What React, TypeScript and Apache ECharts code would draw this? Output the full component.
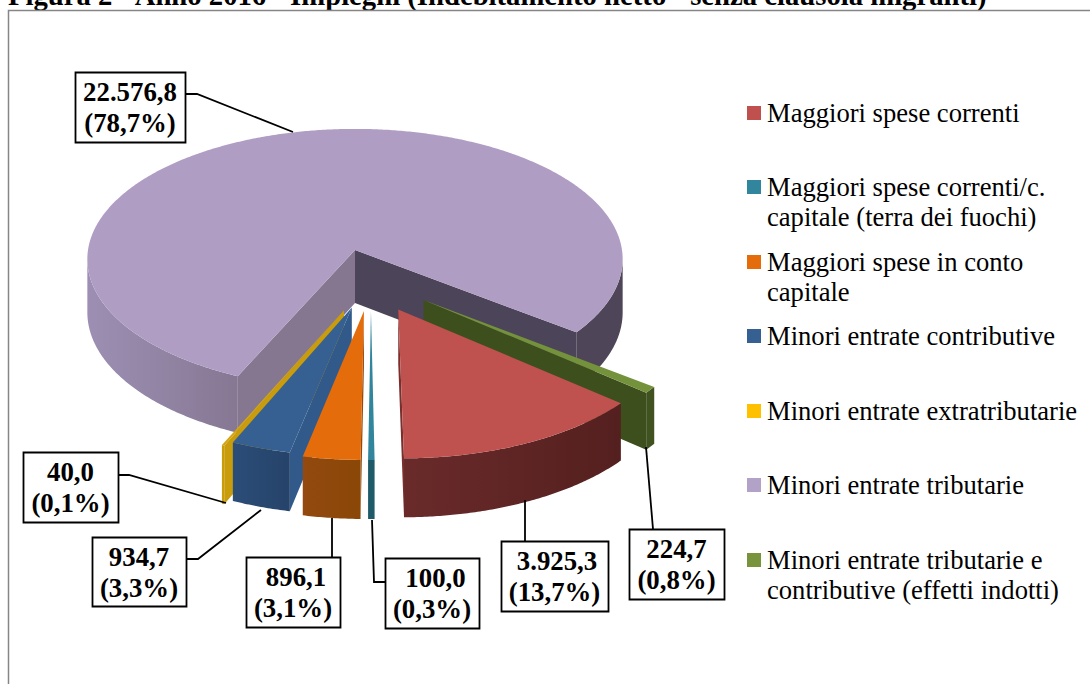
import React, { useEffect, useRef } from "react";
import * as echarts from "echarts";

const titleText = "Figura 2 - Anno 2016 - Impieghi (Indebitamento netto - senza clausola migranti)";
const categories = [
  "Maggiori spese correnti",
  "Maggiori spese correnti/c.\ncapitale (terra dei fuochi)",
  "Maggiori spese in conto\ncapitale",
  "Minori entrate contributive",
  "Minori entrate extratributarie",
  "Minori entrate tributarie",
  "Minori entrate tributarie e\ncontributive (effetti indotti)",
];
const values = [3925.3, 100.0, 896.1, 934.7, 40.0, 22576.8, 224.7];
const valueLabels = ["3.925,3", "100,0", "896,1", "934,7", "40,0", "22.576,8", "224,7"];
const shareLabels = ["(13,7%)", "(0,3%)", "(3,1%)", "(3,3%)", "(0,1%)", "(78,7%)", "(0,8%)"];
const legendColors = ["#c0504d", "#31859c", "#e46c0a", "#376092", "#ffc000", "#b3a2c7", "#77933c"];

// Styling of the 3D pie, in slice order
const topColors = ["#bf514f", "#31859c", "#e46c0a", "#376092", "#d4a50f", "#b09dc4", "#74913b"];
const arcLeft = [["#6a2a2a", "#54201f"], ["#1f5a68", "#1f5a68"], ["#93490f", "#8a4706"], ["#2b4d78", "#26436a"], ["#c99c0c", "#c99c0c"], ["#9d8fb3", "#867893"], ["#3f5220", "#3f5220"]];
const arcRight = ["#54201f", "#1f5a68", "#8a4706", "#26436a", "#c99c0c", "#4e4658", "#3f5220"];
const startWall = ["#7a2f2d", "#1f5a68", "#93490f", "#315a8a", "#c99c0c", "#85778f", "#3d4f1d"];
const endWall = ["#7a2f2d", "#1f5a68", "#93490f", "#26436a", "#c99c0c", "#4c4458", "#3d4f1d"];
const explodeX = [0.157, 0.0579, 0.0325, -0.0115, -0.04, 0, 0.25];
const explodeY = [0.445, 0.455, 0.455, 0.43, 0.45, 0, 0.375];
const drawOrder = [5, 6, 0, 4, 3, 2, 1];
const firstAngle = 130.3;

const CX = 355, CY = 250, A = 267, B = 129.6, K = 0.07, DEPTH = 53;

// Label boxes: [x, y, w, h, first-line nudge]
const boxes = [
  [501, 541, 107, 70, 2.5], [385, 558, 94, 70, 3.5], [246, 557, 94, 70, 3], [92, 537, 94, 69, 0],
  [23, 452, 95, 70, 0], [75, 72, 110, 70, 0], [629, 529, 95, 70, 0],
];
const leaders = [
  [[525, 541], [525, 500]], [[385, 582], [374, 582], [372, 520]], [[332, 557], [332, 518]],
  [[186, 559], [198, 559], [261, 510]], [[118, 475], [129, 475], [226, 503]],
  [[185, 94], [197, 94], [293, 132]], [[653, 529], [646, 447]],
];
const legendY = [106, 180, 255, 329, 404, 478, 553];

const total = values.reduce((a, b) => a + b, 0);
const startAngles: number[] = [];
values.reduce((acc, v, i) => {
  startAngles[i] = acc;
  return acc + (v / total) * 360;
}, firstAngle);

function project(X: number, Y: number) {
  const s = 1 / (1 - K * Y);
  return { x: CX + X * A * s, y: CY + Y * B * s, d: DEPTH * s };
}

function wall(a: any, b: any) {
  // top edge points followed by the same points pushed down by the depth
  const pts = a.map((p: any) => [p.x, p.y]);
  for (let i = a.length - 1; i >= 0; i--) pts.push([a[i].x, a[i].y + a[i].d]);
  return pts;
}

function renderSlice(_: any, api: any) {
  const i = api.value(1) as number;
  const sweep = ((api.value(0) as number) / total) * 360;
  const a0 = startAngles[i];
  const ox = explodeX[i], oy = explodeY[i];
  const n = Math.max(2, Math.ceil(sweep * 2));
  const arc: any[] = [];
  for (let k = 0; k <= n; k++) {
    const t = ((a0 + (sweep * k) / n) * Math.PI) / 180;
    arc.push(project(ox + Math.sin(t), oy - Math.cos(t)));
  }
  const apex = project(ox, oy);
  const children: any[] = [];
  const face = (points: number[][], fill: any) =>
    children.push({ type: "polygon", shape: { points }, style: { fill, stroke: "none" }, silent: true });
  const grad = (c: string[]) =>
    new echarts.graphic.LinearGradient(0, 0, 1, 0, [{ offset: 0, color: c[0] }, { offset: 1, color: c[1] }]);

  if (arc[0].x < apex.x) face(wall([apex, arc[0]], null), startWall[i]);
  if (apex.x < arc[n].x) face(wall([arc[n], apex], null), endWall[i]);

  let run: any[] = [];
  const flush = () => {
    if (run.length > 1) {
      const mid = run[Math.floor(run.length / 2)].x;
      const isRightRun = i === 5 && mid > CX;
      face(wall(run, null), isRightRun ? arcRight[i] : grad(arcLeft[i]));
    }
    run = [];
  };
  for (let k = 0; k < n; k++) {
    if (arc[k + 1].x < arc[k].x) {
      if (!run.length) run.push(arc[k]);
      run.push(arc[k + 1]);
    } else flush();
  }
  flush();

  face([[apex.x, apex.y], ...arc.map((p) => [p.x, p.y])], topColors[i]);
  return { type: "group", children };
}

export default function App() {
  const ref = useRef<HTMLDivElement>(null);
  useEffect(() => {
    document.body.style.margin = "0";
    const chart = echarts.init(ref.current!, undefined, { renderer: "svg" });
    const font = "'Liberation Serif', 'Times New Roman', serif";
    const graphic: any[] = [
      {
        type: "text", x: 8, y: 9.5, z: 5,
        style: { text: titleText, fontFamily: font, fontWeight: "bold", fontSize: 28.7, fill: "#000", verticalAlign: "bottom" },
      },
      {
        type: "polyline", z: 5, shape: { points: [[8.5, 684], [8.5, 10.5], [1090, 10.5]] },
        style: { fill: "none", stroke: "#868686", lineWidth: 1.5 },
      },
    ];
    categories.forEach((name, i) => {
      graphic.push({
        type: "rect", z: 5, shape: { x: 747, y: legendY[i], width: 14, height: 14 },
        style: { fill: legendColors[i] },
      });
      name.split("\n").forEach((line, j) => {
        graphic.push({
          type: "text", x: 767, y: legendY[i] + 6.5 + j * 30, z: 5,
          style: { text: line, fontFamily: font, fontSize: 26.6, fill: "#000", verticalAlign: "middle" },
        });
      });
    });
    leaders.forEach((pts) => {
      graphic.push({
        type: "polyline", z: 6, shape: { points: pts },
        style: { fill: "none", stroke: "#000", lineWidth: 1.8 },
      });
    });
    boxes.forEach((b, i) => {
      const [x, y, w, h, nudge] = b;
      const cx = x + w / 2, cy = y + h / 2;
      graphic.push({
        type: "rect", z: 7, shape: { x: x + 0.5, y: y + 0.5, width: w, height: h },
        style: { fill: "#fff", stroke: "#000", lineWidth: 1.8 },
      });
      graphic.push({
        type: "text", x: cx + nudge, y: cy - 15, z: 8,
        style: { text: valueLabels[i], fontFamily: font, fontWeight: "bold", fontSize: 26.8, fill: "#000", align: "center", verticalAlign: "middle" },
      });
      graphic.push({
        type: "text", x: cx, y: cy + 16, z: 8,
        style: { text: shareLabels[i], fontFamily: font, fontWeight: "bold", fontSize: 26.8, fill: "#000", align: "center", verticalAlign: "middle" },
      });
    });
    chart.setOption({
      animation: false,
      backgroundColor: "#fff",
      graphic: { elements: graphic },
      series: [
        {
          type: "custom",
          coordinateSystem: "none",
          silent: true,
          renderItem: renderSlice,
          data: drawOrder.map((i) => ({ name: categories[i], value: [values[i], i] })),
        },
      ],
    });
    return () => chart.dispose();
  }, []);
  return <div ref={ref} style={{ position: "absolute", left: 0, top: 0, width: 1090, height: 684 }} />;
}
